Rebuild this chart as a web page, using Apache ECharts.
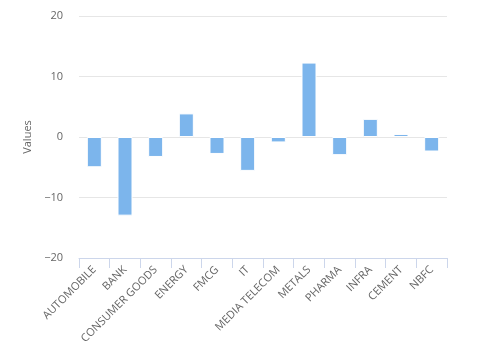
<!DOCTYPE html>
<html>
<head>
<meta charset="utf-8">
<script src="https://cdn.jsdelivr.net/npm/echarts@6/dist/echarts.min.js"></script>
<style>
  html, body { margin: 0; padding: 0; background: #fff; }
  #chart { width: 489px; height: 351px; }
</style>
</head>
<body>
<div id="chart"></div>
<script>
const categories = ['AUTOMOBILE', 'BANK', 'CONSUMER GOODS', 'ENERGY', 'FMCG', 'IT',
  'MEDIA TELECOM', 'METALS', 'PHARMA', 'INFRA', 'CEMENT', 'NBFC'];
const values = [-5.0, -13.0, -3.3, 3.9, -2.8, -5.6, -0.9, 12.3, -3.0, 3.0, 0.5, -2.4];
const yTicks = { min: -20, max: 20, step: 10 };

const fontFamily = '"Open Sans", "DejaVu Sans", sans-serif';

var myChart = echarts.init(document.querySelector('#chart'));
myChart.setOption({
  animation: false,
  textStyle: { fontFamily: fontFamily },
  grid: { left: 79, right: 42, top: 16, bottom: 93 },
  xAxis: {
    type: 'category',
    data: categories,
    axisLine: { onZero: false, lineStyle: { color: '#ccd6eb' } },
    axisTick: { show: true, length: 10, lineStyle: { color: '#ccd6eb' } },
    axisLabel: {
      rotate: 45,
      interval: 0,
      margin: 10,
      color: '#666666',
      fontSize: 11,
      fontFamily: fontFamily
    }
  },
  yAxis: {
    type: 'value',
    min: yTicks.min,
    max: yTicks.max,
    interval: yTicks.step,
    name: 'Values',
    nameLocation: 'middle',
    nameGap: 46,
    nameTextStyle: { color: '#666666', fontSize: 11, fontFamily: fontFamily },
    axisLine: { show: false },
    axisTick: { show: false },
    axisLabel: {
      color: '#666666',
      fontSize: 11,
      margin: 16,
      fontFamily: fontFamily,
      formatter: function (v) {
        return String(v).replace('-', '\u2212');
      }
    },
    splitLine: { lineStyle: { color: '#e6e6e6' } }
  },
  series: [
    {
      name: 'Values',
      type: 'bar',
      data: values,
      barWidth: 15,
      itemStyle: { color: '#7cb5ec', borderColor: '#ffffff', borderWidth: 1 }
    }
  ]
});
</script>
</body>
</html>
